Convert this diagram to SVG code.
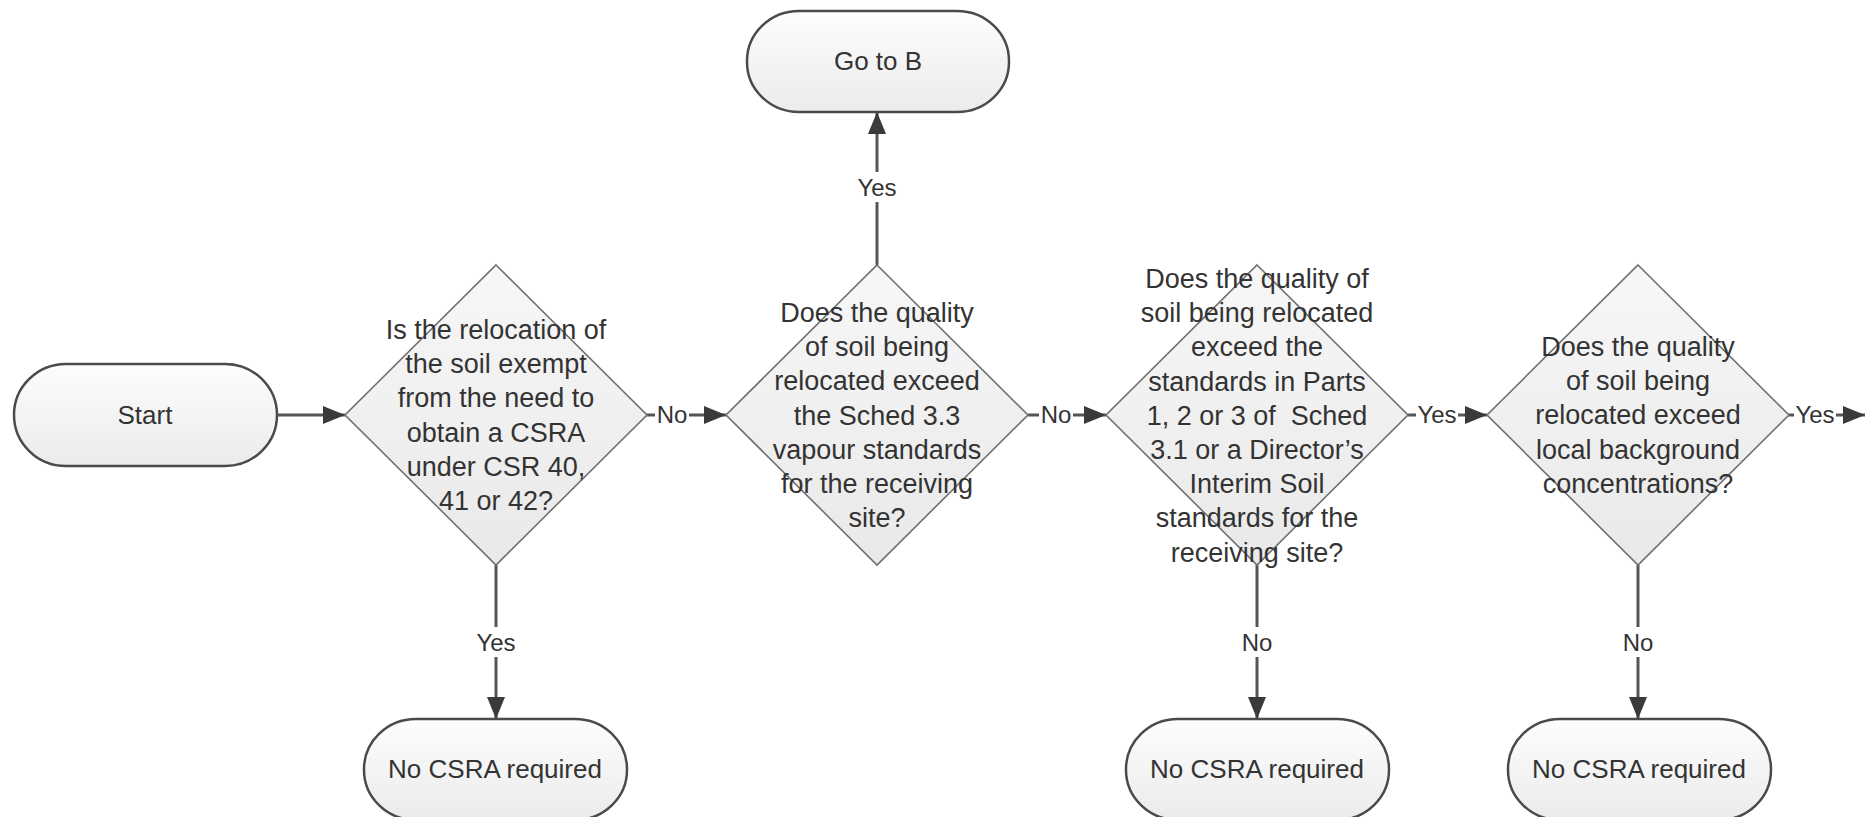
<svg xmlns="http://www.w3.org/2000/svg" width="1866" height="817" viewBox="0 0 1866 817">
<defs>
<linearGradient id="gT" x1="0" y1="0" x2="0" y2="1"><stop offset="0" stop-color="#fdfdfd"/><stop offset="1" stop-color="#ebebeb"/></linearGradient>
<linearGradient id="gD" x1="0" y1="0" x2="0" y2="1"><stop offset="0" stop-color="#f7f7f7"/><stop offset="1" stop-color="#e9e9e9"/></linearGradient>
<marker id="ah" markerUnits="userSpaceOnUse" markerWidth="22" markerHeight="18" refX="22" refY="9" orient="auto"><path d="M0,0 L22,9 L0,18 z" fill="#3a3a3a"/></marker>
<style>
.term{fill:url(#gT);stroke:#4a4a4a;stroke-width:2.5}
.dia{fill:url(#gD);stroke:#707070;stroke-width:1.6}
.t{font-family:"Liberation Sans",Arial,sans-serif;font-size:26px;fill:#333;text-anchor:middle}
.dt{font-family:"Liberation Sans",Arial,sans-serif;font-size:27px;fill:#333;text-anchor:middle}
.lbl{font-family:"Liberation Sans",Arial,sans-serif;font-size:24px;fill:#333;text-anchor:middle}
.c{stroke:#555;stroke-width:3;fill:none;marker-end:url(#ah)}
.lb{fill:#fff}
</style>
</defs>
<rect width="1866" height="817" fill="#fff"/>
<g id="connectors">
<line class="c" x1="276" y1="415" x2="345" y2="415"/>
<line class="c" x1="646" y1="415" x2="726" y2="415"/>
<line class="c" x1="1028" y1="415" x2="1106" y2="415"/>
<line class="c" x1="1408" y1="415" x2="1487" y2="415"/>
<line class="c" x1="1789" y1="415" x2="1865" y2="415"/>
<line class="c" x1="877" y1="265" x2="877" y2="112"/>
<line class="c" x1="496" y1="565" x2="496" y2="719"/>
<line class="c" x1="1257" y1="565" x2="1257" y2="719"/>
<line class="c" x1="1638" y1="565" x2="1638" y2="719"/>
<rect class="lb" x="655" y="402" width="34" height="26"/>
<text class="lbl" x="672" y="423">No</text>
<rect class="lb" x="1039" y="402" width="34" height="26"/>
<text class="lbl" x="1056" y="423">No</text>
<rect class="lb" x="1416" y="402" width="42" height="26"/>
<text class="lbl" x="1437" y="423">Yes</text>
<rect class="lb" x="1794" y="402" width="42" height="26"/>
<text class="lbl" x="1815" y="423">Yes</text>
<rect class="lb" x="856" y="172" width="42" height="30"/>
<text class="lbl" x="877" y="196">Yes</text>
<rect class="lb" x="475" y="627" width="42" height="30"/>
<text class="lbl" x="496" y="651">Yes</text>
<rect class="lb" x="1239" y="627" width="36" height="30"/>
<text class="lbl" x="1257" y="651">No</text>
<rect class="lb" x="1620" y="627" width="36" height="30"/>
<text class="lbl" x="1638" y="651">No</text>
</g>
<g id="start">
<rect class="term" x="14" y="364" width="263" height="102" rx="52" ry="51"/>
<text class="t" x="145" y="424">Start</text>
</g>
<g id="goto-b">
<rect class="term" x="747" y="11" width="262" height="101" rx="52" ry="50"/>
<text class="t" x="878" y="70">Go to B</text>
</g>
<g id="no-csra-1">
<rect class="term" x="364" y="719" width="263" height="101" rx="52" ry="50"/>
<text class="t" x="495" y="778">No CSRA required</text>
</g>
<g id="no-csra-2">
<rect class="term" x="1126" y="719" width="263" height="101" rx="52" ry="50"/>
<text class="t" x="1257" y="778">No CSRA required</text>
</g>
<g id="no-csra-3">
<rect class="term" x="1508" y="719" width="263" height="101" rx="52" ry="50"/>
<text class="t" x="1639" y="778">No CSRA required</text>
</g>
<g id="decision-1">
<polygon class="dia" points="496,265 647,415 496,565 345,415"/>
<text class="dt" y="339"><tspan x="496">Is the relocation of</tspan><tspan x="496" dy="34.2">the soil exempt</tspan><tspan x="496" dy="34.2">from the need to</tspan><tspan x="496" dy="34.2">obtain a CSRA</tspan><tspan x="496" dy="34.2">under CSR 40,</tspan><tspan x="496" dy="34.2">41 or 42?</tspan></text>
</g>
<g id="decision-2">
<polygon class="dia" points="877,265 1028,415 877,565 726,415"/>
<text class="dt" y="322"><tspan x="877">Does the quality</tspan><tspan x="877" dy="34.2">of soil being</tspan><tspan x="877" dy="34.2">relocated exceed</tspan><tspan x="877" dy="34.2">the Sched 3.3</tspan><tspan x="877" dy="34.2">vapour standards</tspan><tspan x="877" dy="34.2">for the receiving</tspan><tspan x="877" dy="34.2">site?</tspan></text>
</g>
<g id="decision-3">
<polygon class="dia" points="1257,265 1408,415 1257,565 1106,415"/>
<text class="dt" y="288"><tspan x="1257">Does the quality of</tspan><tspan x="1257" dy="34.2">soil being relocated</tspan><tspan x="1257" dy="34.2">exceed the</tspan><tspan x="1257" dy="34.2">standards in Parts</tspan><tspan x="1257" dy="34.2">1, 2 or 3 of&#160; Sched</tspan><tspan x="1257" dy="34.2">3.1 or a Director’s</tspan><tspan x="1257" dy="34.2">Interim Soil</tspan><tspan x="1257" dy="34.2">standards for the</tspan><tspan x="1257" dy="34.2">receiving site?</tspan></text>
</g>
<g id="decision-4">
<polygon class="dia" points="1638,265 1789,415 1638,565 1487,415"/>
<text class="dt" y="356"><tspan x="1638">Does the quality</tspan><tspan x="1638" dy="34.2">of soil being</tspan><tspan x="1638" dy="34.2">relocated exceed</tspan><tspan x="1638" dy="34.2">local background</tspan><tspan x="1638" dy="34.2">concentrations?</tspan></text>
</g>
</svg>
